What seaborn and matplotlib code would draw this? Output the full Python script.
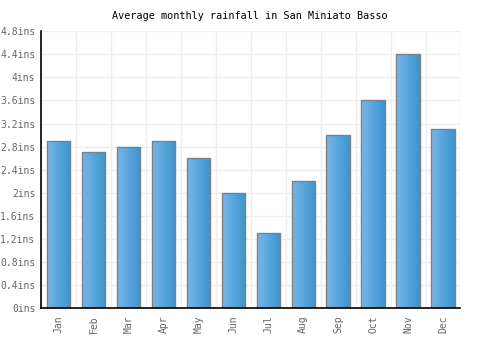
import numpy as np
import pandas as pd
import matplotlib
matplotlib.use("Agg")
import matplotlib.pyplot as plt
import seaborn as sns
from matplotlib.colors import LinearSegmentedColormap

months = ["Jan", "Feb", "Mar", "Apr", "May", "Jun", "Jul", "Aug", "Sep", "Oct", "Nov", "Dec"]
rainfall = [2.9, 2.7, 2.8, 2.9, 2.6, 2.0, 1.3, 2.2, 3.0, 3.6, 4.4, 3.1]
yticks = [0, 0.4, 0.8, 1.2, 1.6, 2.0, 2.4, 2.8, 3.2, 3.6, 4.0, 4.4, 4.8]
ytick_labels = ["0ins", "0.4ins", "0.8ins", "1.2ins", "1.6ins", "2ins", "2.4ins",
                "2.8ins", "3.2ins", "3.6ins", "4ins", "4.4ins", "4.8ins"]
title = "Average monthly rainfall in San Miniato Basso"

sns.set_style("white")
plt.rcParams['font.family'] = ['DejaVu Sans Mono', 'DejaVu Sans']

df = pd.DataFrame({"month": months, "rain": rainfall})

fig = plt.figure(figsize=(5, 3.5), dpi=100)
ax = fig.add_axes([0.082, 0.119, 0.839, 0.792])

sns.barplot(data=df, x="month", y="rain", ax=ax, width=0.667,
            color="#5aa6dc", edgecolor="#808080", linewidth=1.0, saturation=1)

cmap = LinearSegmentedColormap.from_list("g", ["#76b6ea", "#3a95cf"])
grad = np.linspace(0, 1, 64).reshape(1, -1)
for p in ax.patches:
    x0, y0 = p.get_x(), p.get_y()
    w, h = p.get_width(), p.get_height()
    im = ax.imshow(grad, cmap=cmap, aspect="auto", extent=[x0, x0 + w, y0, y0 + h],
                   zorder=p.get_zorder() + 0.1, interpolation="bilinear")
    im.set_clip_path(p)
    p.set_facecolor("none")
    p.set_zorder(p.get_zorder() + 0.2)

ax.set_xlim(-0.5, 11.5)
ax.set_ylim(0, 4.8)
ax.set_yticks(yticks)
ax.set_yticklabels(ytick_labels)
ax.set_xticks(range(len(months)))
ax.set_xticklabels(months, rotation=90)
ax.set_xlabel("")
ax.set_ylabel("")

ax.set_xticks(np.arange(-0.5, 12, 1), minor=True)
ax.grid(False)
ax.yaxis.grid(True, color="#eeeeee", linewidth=1)
ax.xaxis.grid(True, which="minor", color="#eeeeee", linewidth=1)
ax.set_axisbelow(True)

ax.tick_params(axis="both", which="both", length=0, labelsize=7.0, labelcolor="#666666")
ax.tick_params(axis="y", pad=4)
ax.tick_params(axis="x", pad=5)

for s in ["top", "right"]:
    ax.spines[s].set_visible(False)
for s in ["left", "bottom"]:
    ax.spines[s].set_color("black")
    ax.spines[s].set_linewidth(1.2)

fig.text(0.5, 0.955, title, ha="center", va="center", fontsize=7.3, color="black")

fig.savefig("out.png", dpi=100, facecolor="white")
